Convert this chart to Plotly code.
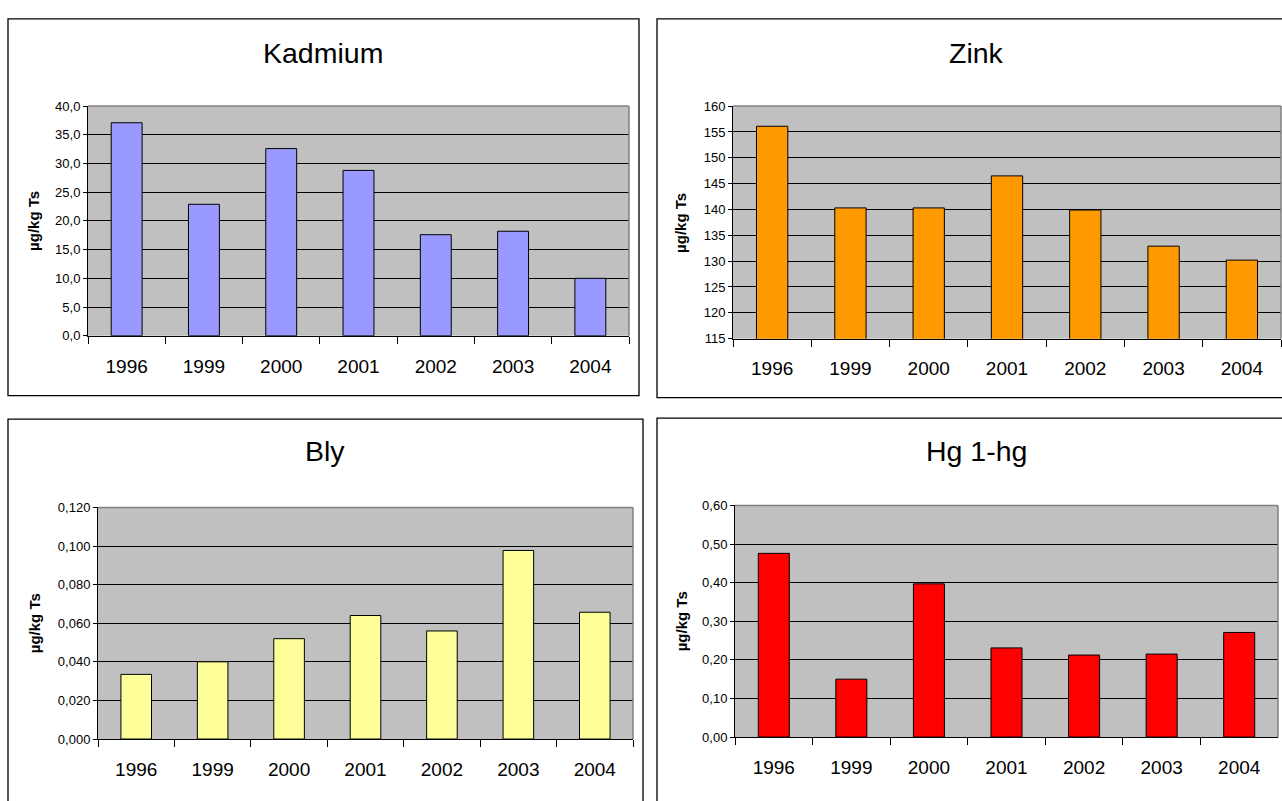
import plotly.graph_objects as go

# Data: heavy metal concentrations per sampling year
years = ["1996", "1999", "2000", "2001", "2002", "2003", "2004"]
kadmium = [37.1, 22.9, 32.6, 28.8, 17.6, 18.2, 10.0]
zink = [156.1, 140.3, 140.3, 146.5, 139.9, 132.9, 130.2]
bly = [0.0335, 0.040, 0.052, 0.064, 0.056, 0.0977, 0.0657]
hg = [0.476, 0.150, 0.397, 0.231, 0.2125, 0.215, 0.271]

titles = ["Kadmium", "Zink", "Bly", "Hg 1-hg"]
unit = "µg/kg Ts"
series = [kadmium, zink, bly, hg]

colors = ["#9999FF", "#FF9900", "#FFFF99", "#FF0000"]
y_ranges = [(0, 40), (115, 160), (0, 0.12), (0, 0.6)]
y_dticks = [5, 5, 0.02, 0.1]
y_formats = [".1f", "d", ".3f", ".2f"]

W, H = 1282, 801
FONT = "Liberation Sans, Arial, sans-serif"


def fx(x):
    return x / W


def fy(y):
    return 1 - y / H


# pixel boxes: (left, right, top, bottom)
plot_boxes = [(88, 629, 101, 335), (733, 1281, 101, 338),
              (98, 633, 510, 746), (735, 1278, 508, 744)]
frames = [(8, 639, 12, 396), (657, 1296, 12, 398),
          (8, 643, 420, 830), (657, 1296, 419, 830)]
title_pos = [(323, 47), (976, 47), (325, 452), (976, 452)]
ytitle_pos = [(34, 218), (681, 220), (34, 628), (681, 626)]

fig = go.Figure()
shapes = []
annotations = []

for i in range(4):
    n = "" if i == 0 else str(i + 1)
    l, r, t, b = plot_boxes[i]
    fig.add_trace(go.Bar(
        x=years, y=series[i],
        marker=dict(color=colors[i], line=dict(color="black", width=1)),
        xaxis="x" + n, yaxis="y" + n, showlegend=False,
        hovertemplate="%{x}: %{y}<extra></extra>",
    ))
    fig.layout["xaxis" + n] = dict(
        domain=[fx(l), fx(r)], anchor="y" + n, type="category",
        showline=True, linecolor="black", linewidth=1,
        ticks="outside", tickson="boundaries", ticklen=7, tickcolor="black",
        tickfont=dict(size=19, color="black", family=FONT),
        ticklabelstandoff=13,
        showgrid=False, zeroline=False, fixedrange=True,
    )
    lo, hi = y_ranges[i]
    fig.layout["yaxis" + n] = dict(
        domain=[fy(b), fy(t)], anchor="x" + n,
        range=[lo, hi], tick0=lo, dtick=y_dticks[i], tickformat=y_formats[i],
        showline=True, linecolor="black", linewidth=1,
        ticks="outside", ticklen=4, tickcolor="black",
        tickfont=dict(size=13, color="black", family=FONT),
        showgrid=True, gridcolor="black", gridwidth=1,
        zeroline=False, fixedrange=True,
    )
    # chart frame
    fl, fr, ft, fb = frames[i]
    shapes.append(dict(type="rect", xref="paper", yref="paper",
                       x0=fx(fl), x1=fx(fr), y0=fy(fb), y1=fy(ft),
                       line=dict(color="black", width=1.3), layer="below"))
    # plot-area border on top and right
    shapes.append(dict(type="line", xref="paper", yref="paper",
                       x0=fx(l), x1=fx(r), y0=fy(t), y1=fy(t),
                       line=dict(color="#808080", width=1.5), layer="above"))
    shapes.append(dict(type="line", xref="paper", yref="paper",
                       x0=fx(r), x1=fx(r), y0=fy(b), y1=fy(t),
                       line=dict(color="#808080", width=1.5), layer="above"))
    tx, ty = title_pos[i]
    annotations.append(dict(text=titles[i], xref="paper", yref="paper",
                            x=fx(tx), y=fy(ty), xanchor="center", yanchor="middle",
                            showarrow=False,
                            font=dict(size=28.5, color="black", family=FONT)))
    ax, ay = ytitle_pos[i]
    annotations.append(dict(text="<b>" + unit + "</b>", xref="paper", yref="paper",
                            x=fx(ax), y=fy(ay), xanchor="center", yanchor="middle",
                            textangle=-90, showarrow=False,
                            font=dict(size=15, color="black", family=FONT)))

fig.update_layout(
    width=W, height=H, autosize=False,
    margin=dict(l=0, r=0, t=0, b=0),
    paper_bgcolor="white", plot_bgcolor="#C0C0C0",
    bargap=0.6, separators=", ",
    shapes=shapes, annotations=annotations,
    font=dict(family=FONT, color="black"),
)

fig.write_html("out.html")
